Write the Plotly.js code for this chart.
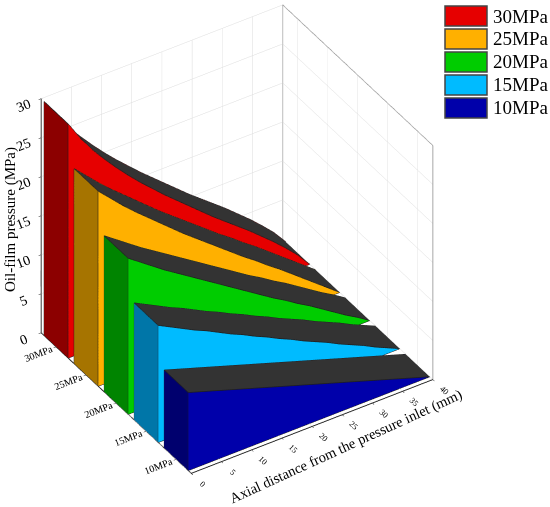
<!DOCTYPE html>
<html><head><meta charset="utf-8">
<script src="https://cdn.plot.ly/plotly-3.0.1.min.js"></script>
<style>html,body{margin:0;padding:0;background:#fff}#chart{width:550px;height:507px}</style>
</head><body><div id="chart"></div>
<script>
// Axial distance from the pressure inlet (mm)
const distance = [0,2,4,6,8,10,12,14,16,18,20,22,24,26,28,30,32,34,36,38,40];
// series (front to back)
const categories = ['10MPa','15MPa','20MPa','25MPa','30MPa'];
const p10 = [10,9.5,9.0,8.5,8.0,7.5,7.0,6.5,6.0,5.5,5.0,4.5,4.0,3.5,3.0,2.5,2.0,1.5,1.0,0.5,0];
const p15 = [15,14.2,13.4,12.6,11.9,11.1,10.3,9.6,8.8,8.1,7.3,6.6,5.8,5.1,4.4,3.6,2.9,2.2,1.4,0.7,0];
const p20 = [20,18.9,17.8,16.7,15.7,14.7,13.7,12.7,11.7,10.7,9.7,8.7,7.7,6.8,5.8,4.9,3.9,2.9,1.9,1.0,0];
const p25 = [25,23.5,22.0,20.6,19.3,18.0,16.7,15.4,14.2,13.0,11.8,10.6,9.4,8.3,7.1,6.0,4.8,3.6,2.4,1.2,0];
const p30 = [30,27.6,25.5,23.7,22.0,20.4,18.9,17.5,16.1,14.8,13.5,12.2,10.9,9.7,8.5,7.3,6.0,4.7,3.3,1.8,0];
const seriesValues = [p10,p15,p20,p25,p30];
const xTicks = [0,5,10,15,20,25,30,35,40];
const zTicks = [0,5,10,15,20,25,30];
const xRange = [0,40], yRange = [-0.5,4.5], zRange = [0,30];
const xTitle = 'Axial distance from the pressure inlet (mm)';
const zTitle = 'Oil-film pressure (MPa)';

const mainColors = ['#0000AA','#00BBFF','#00CC00','#FFB000','#E60000'];
const endColors  = ['#00006E','#0076A8','#008400','#A67400','#8C0000'];
const topColor = '#333333';
const HALF = 0.4;
const FONT = 'Liberation Serif, Times New Roman, serif';

function wallTrace(idx, p){
  const xs=[],ys=[],zs=[],I=[],J=[],K=[],fc=[];
  const n=distance.length, y0=idx-HALF, y1=idx+HALF;
  for(let j=0;j<n;j++){
    xs.push(distance[j],distance[j],distance[j],distance[j]);
    ys.push(y0,y0,y1,y1);
    zs.push(0,p[j],0,p[j]);
  }
  const main=mainColors[idx], end=endColors[idx];
  const tri=(a,b,c,col)=>{I.push(a);J.push(b);K.push(c);fc.push(col);};
  for(let j=0;j<n-1;j++){
    const a=4*j,b=4*(j+1);
    tri(a,b,a+1,main); tri(a+1,b,b+1,main);
    tri(a+2,b+2,a+3,main); tri(a+3,b+2,b+3,main);
    tri(a+1,b+1,a+3,topColor); tri(a+3,b+1,b+3,topColor);
  }
  tri(0,1,3,end); tri(0,3,2,end);
  return {type:'mesh3d',x:xs,y:ys,z:zs,i:I,j:J,k:K,facecolor:fc,flatshading:true,
    lighting:{ambient:1,diffuse:0,specular:0,roughness:1,fresnel:0},
    hoverinfo:'skip',showlegend:false,showscale:false,name:categories[idx]};
}
function edgeTrace(idx,p){
  const y0=idx-HALF, y1=idx+HALF;
  const X=[],Y=[],Z=[];
  const seg=(pts)=>{pts.forEach(q=>{X.push(q[0]);Y.push(q[1]);Z.push(q[2]);}); X.push(null);Y.push(null);Z.push(null);};
  seg(distance.map((d,j)=>[d,y0,p[j]]));
  seg(distance.map((d,j)=>[d,y1,p[j]]));
  seg(distance.map(d=>[d,y0,0]));
  seg([[0,y0,0],[0,y0,p[0]],[0,y1,p[0]],[0,y1,0],[0,y0,0]]);
  return {type:'scatter3d',mode:'lines',x:X,y:Y,z:Z,connectgaps:false,
    line:{color:'#1e1e1e',width:1.5},hoverinfo:'skip',showlegend:false};
}
const traces = seriesValues.map((p,i)=>wallTrace(i,p));
seriesValues.forEach((p,i)=>traces.push(edgeTrace(i,p)));
// outer box edges
traces.push({type:'scatter3d',mode:'lines',
  x:[xRange[0],xRange[1],xRange[1],xRange[1],null,xRange[1],xRange[1]],
  y:[yRange[1],yRange[1],yRange[0],yRange[0],null,yRange[1],yRange[1]],
  z:[zRange[1],zRange[1],zRange[1],zRange[0],null,zRange[0],zRange[1]],
  connectgaps:false,line:{color:'#8a8a8a',width:1.5},hoverinfo:'skip',showlegend:false});

const axisCommon = {
  showbackground:false, showgrid:true, gridcolor:'#dcdcdc', gridwidth:1,
  showline:true, linecolor:'#222', linewidth:2, zeroline:false,
  ticks:'outside', ticklen:3, tickcolor:'#222', showspikes:false,
  tickfont:{family:FONT,size:12,color:'#000'}, title:{text:''}
};
const layout = {
  width:550, height:507, margin:{l:0,r:0,t:0,b:0},
  paper_bgcolor:'#fff', showlegend:false,
  scene:{
    domain:{x:[0.007,0.855],y:[0.03,1]},
    aspectmode:'manual', aspectratio:{x:1.168,y:1.127,z:1.193},
    camera:{eye:{x:-0.747,y:-1.16,z:1.008},center:{x:0,y:0,z:-0.035},up:{x:0,y:0,z:1},projection:{type:'orthographic'}},
    xaxis:Object.assign({},axisCommon,{range:xRange,tickvals:xTicks,tickfont:{family:FONT,size:10,color:'#000'}}),
    yaxis:Object.assign({},axisCommon,{range:yRange,tickvals:[0,1,2,3,4],ticktext:categories,
      tickfont:{family:FONT,size:11,color:'#000'}}),
    zaxis:Object.assign({},axisCommon,{range:zRange,tickvals:zTicks,tickfont:{family:FONT,size:13,color:'#000'}})
  },
  shapes:[],
  annotations:[
    {xref:'paper',yref:'paper',x:346/550,y:1-446/507,xanchor:'center',yanchor:'middle',showarrow:false,
     text:xTitle,textangle:-24.6,font:{family:FONT,size:14.5,color:'#000'}},
    {xref:'paper',yref:'paper',x:10/550,y:1-220/507,xanchor:'center',yanchor:'middle',showarrow:false,
     text:zTitle,textangle:-90,font:{family:FONT,size:15,color:'#000'}}
  ]
};
// legend (top to bottom: 30MPa ... 10MPa)
const legendOrder=[4,3,2,1,0];
legendOrder.forEach((s,r)=>{
  const top=6+r*23;
  layout.shapes.push({type:'rect',xref:'paper',yref:'paper',
    x0:445/550,x1:487/550,y0:1-(top+20)/507,y1:1-top/507,
    fillcolor:mainColors[s],line:{color:'#444',width:1.5}});
  layout.annotations.push({xref:'paper',yref:'paper',x:491/550,y:1-(top+10)/507,
    xanchor:'left',yanchor:'middle',showarrow:false,text:categories[s],
    font:{family:FONT,size:19,color:'#000'}});
});
Plotly.newPlot('chart',traces,layout,{displayModeBar:false});
</script></body></html>
